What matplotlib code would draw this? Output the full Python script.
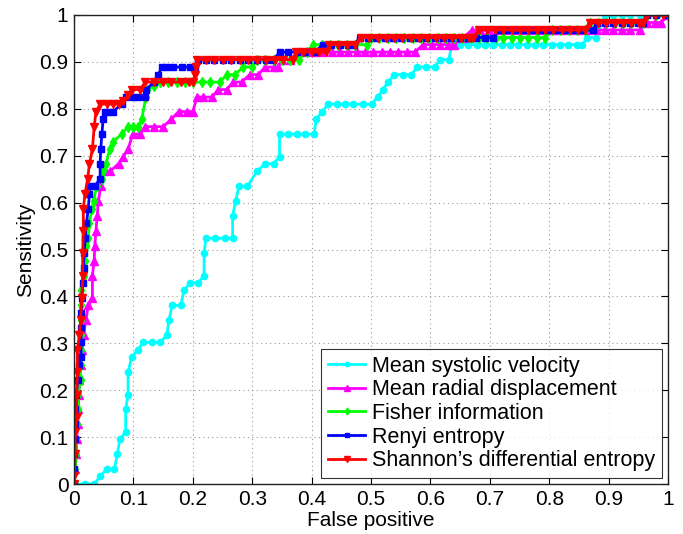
import matplotlib
matplotlib.use("Agg")
import matplotlib.pyplot as plt
import numpy as np

plt.rcParams['font.family'] = ['Liberation Sans', 'DejaVu Sans']

labels = ["Mean systolic velocity", "Mean radial displacement", "Fisher information",
          "Renyi entropy", "Shannon\u2019s differential entropy"]
colors = ["#00FFFF", "#FF00FF", "#00FF00", "#0000FF", "#FF0000"]
markers = ["o", "^", "d", "s", "v"]

systolic = [(0,0),(0.018,0),(0.034,0),(0.044,0.016),(0.055,0.032),(0.068,0.032),(0.073,0.063),
    (0.077,0.095),(0.087,0.111),(0.087,0.159),(0.091,0.190),(0.091,0.238),(0.097,0.270),(0.107,0.286),
    (0.117,0.302),(0.131,0.302),(0.145,0.302),(0.156,0.317),(0.160,0.349),(0.165,0.381),(0.180,0.381),
    (0.185,0.413),(0.196,0.429),(0.209,0.429),(0.219,0.444),(0.219,0.492),(0.222,0.524),(0.237,0.524),
    (0.254,0.524),(0.267,0.524),(0.267,0.571),(0.272,0.603),(0.278,0.635),(0.292,0.635),(0.308,0.667),
    (0.322,0.683),(0.336,0.683),(0.346,0.698),(0.346,0.746),(0.361,0.746),(0.375,0.746),(0.389,0.746),
    (0.404,0.746),(0.408,0.778),(0.418,0.794),(0.428,0.810),(0.442,0.810),(0.456,0.810),(0.470,0.810),
    (0.486,0.810),(0.501,0.810),(0.511,0.825),(0.520,0.841),(0.529,0.857),(0.539,0.873),(0.554,0.873),
    (0.568,0.873),(0.578,0.889),(0.593,0.889),(0.608,0.889),(0.616,0.905),(0.631,0.905),(0.636,0.937),
    (0.650,0.937),(0.664,0.937),(0.678,0.937),(0.692,0.937),(0.706,0.937),(0.720,0.937),(0.734,0.937),
    (0.748,0.937),(0.762,0.937),(0.776,0.937),(0.790,0.937),(0.804,0.937),(0.818,0.937),(0.832,0.937),
    (0.846,0.937),(0.856,0.937),(0.864,0.952),(0.879,0.952),(0.894,1.0),(0.908,1.0),(0.922,1.0),
    (0.936,1.0),(0.953,1.0),(0.967,1.0),(0.981,1.0),(1.0,1.0)]

radial = [(0,0),(0.002,0.032),(0.004,0.063),(0.0045,0.095),(0.006,0.127),(0.007,0.159),(0.008,0.190),
    (0.009,0.222),(0.011,0.254),(0.013,0.286),(0.016,0.317),(0.020,0.349),(0.024,0.381),(0.031,0.397),
    (0.031,0.444),(0.034,0.476),(0.035,0.508),(0.037,0.540),(0.039,0.571),(0.041,0.603),(0.045,0.635),
    (0.049,0.667),(0.061,0.667),(0.075,0.683),(0.083,0.698),(0.091,0.714),(0.099,0.746),(0.111,0.746),
    (0.120,0.762),(0.134,0.762),(0.150,0.762),(0.164,0.778),(0.176,0.794),(0.190,0.794),(0.200,0.794),
    (0.207,0.825),(0.218,0.825),(0.232,0.825),(0.243,0.841),(0.257,0.841),(0.268,0.857),(0.282,0.857),
    (0.296,0.873),(0.310,0.873),(0.322,0.889),(0.336,0.889),(0.344,0.889),(0.350,0.905),(0.364,0.905),
    (0.378,0.921),(0.392,0.921),(0.406,0.921),(0.420,0.921),(0.434,0.921),(0.448,0.921),(0.462,0.921),
    (0.476,0.921),(0.490,0.921),(0.504,0.921),(0.518,0.921),(0.532,0.921),(0.546,0.921),(0.560,0.921),
    (0.574,0.921),(0.588,0.937),(0.602,0.937),(0.616,0.937),(0.630,0.937),(0.640,0.937),(0.655,0.952),
    (0.670,0.968),(0.684,0.968),(0.698,0.968),(0.712,0.968),(0.726,0.968),(0.740,0.968),(0.754,0.968),
    (0.768,0.968),(0.782,0.968),(0.796,0.968),(0.810,0.968),(0.824,0.968),(0.838,0.968),(0.852,0.968),
    (0.866,0.968),(0.880,0.968),(0.894,0.968),(0.908,0.968),(0.922,0.968),(0.936,0.968),(0.953,0.968),
    (0.964,0.984),(0.978,0.984),(0.989,0.984),(1.0,1.0)]

fisher = [(0,0),(0.002,0.032),(0.003,0.063),(0.004,0.095),(0.005,0.127),(0.006,0.159),(0.007,0.190),
    (0.011,0.222),(0.011,0.254),(0.011,0.286),(0.011,0.317),(0.011,0.349),(0.011,0.381),(0.011,0.413),
    (0.016,0.444),(0.018,0.476),(0.021,0.508),(0.024,0.524),(0.026,0.556),(0.030,0.587),(0.033,0.603),
    (0.038,0.635),(0.047,0.651),(0.048,0.667),(0.054,0.683),(0.060,0.714),(0.066,0.730),(0.080,0.746),
    (0.091,0.762),(0.100,0.762),(0.108,0.762),(0.114,0.778),(0.121,0.825),(0.123,0.841),(0.135,0.849),
    (0.145,0.857),(0.159,0.857),(0.173,0.857),(0.187,0.857),(0.201,0.857),(0.215,0.857),(0.229,0.857),
    (0.246,0.857),(0.257,0.873),(0.271,0.873),(0.285,0.889),(0.300,0.889),(0.308,0.905),(0.322,0.905),
    (0.336,0.905),(0.350,0.905),(0.364,0.905),(0.378,0.905),(0.392,0.921),(0.403,0.937),(0.417,0.937),
    (0.431,0.937),(0.445,0.937),(0.459,0.937),(0.473,0.937),(0.493,0.937),(0.500,0.952),(0.514,0.952),
    (0.528,0.952),(0.542,0.952),(0.556,0.952),(0.570,0.952),(0.584,0.952),(0.598,0.952),(0.612,0.952),
    (0.626,0.952),(0.640,0.952),(0.654,0.952),(0.668,0.952),(0.682,0.952),(0.696,0.952),(0.710,0.952),
    (0.722,0.952),(0.737,0.952),(0.751,0.952),(0.765,0.952),(0.779,0.952),(0.793,0.952),(0.805,0.968),
    (0.819,0.968),(0.833,0.968),(0.847,0.968),(0.860,0.968),(0.868,0.984),(0.882,0.984),(0.896,0.984),
    (0.910,0.984),(0.924,0.984),(0.938,0.984),(0.958,0.984),(0.964,1.0),(0.980,1.0),(1.0,1.0)]

renyi = [(0,0),(0,0.032),(0,0.063),(0.002,0.095),(0.002,0.127),(0.002,0.159),(0.004,0.190),
    (0.006,0.222),(0.008,0.254),(0.012,0.270),(0.012,0.302),(0.012,0.333),(0.012,0.365),(0.013,0.397),
    (0.015,0.429),(0.016,0.460),(0.017,0.492),(0.019,0.524),(0.021,0.556),(0.024,0.587),(0.026,0.619),
    (0.027,0.635),(0.035,0.635),(0.044,0.651),(0.044,0.683),(0.045,0.714),(0.047,0.746),(0.049,0.778),
    (0.052,0.794),(0.058,0.794),(0.066,0.794),(0.080,0.810),(0.088,0.825),(0.100,0.825),(0.108,0.825),
    (0.120,0.825),(0.122,0.841),(0.134,0.857),(0.142,0.873),(0.148,0.889),(0.156,0.889),(0.167,0.889),
    (0.181,0.889),(0.195,0.889),(0.204,0.889),(0.209,0.905),(0.222,0.905),(0.236,0.905),(0.251,0.905),
    (0.265,0.905),(0.279,0.905),(0.293,0.905),(0.308,0.905),(0.323,0.905),(0.335,0.905),(0.347,0.921),
    (0.361,0.921),(0.375,0.921),(0.389,0.921),(0.405,0.921),(0.419,0.937),(0.433,0.937),(0.447,0.937),
    (0.461,0.937),(0.472,0.937),(0.481,0.952),(0.495,0.952),(0.509,0.952),(0.523,0.952),(0.537,0.952),
    (0.551,0.952),(0.565,0.952),(0.579,0.952),(0.593,0.952),(0.607,0.952),(0.621,0.952),(0.635,0.952),
    (0.649,0.952),(0.663,0.952),(0.677,0.952),(0.692,0.952),(0.706,0.952),(0.715,0.968),(0.729,0.968),
    (0.743,0.968),(0.757,0.968),(0.771,0.968),(0.785,0.968),(0.799,0.968),(0.813,0.968),(0.827,0.968),
    (0.841,0.968),(0.855,0.968),(0.874,0.968),(0.880,0.984),(0.894,0.984),(0.908,0.984),(0.922,0.984),
    (0.936,0.984),(0.950,0.984),(0.958,0.984),(0.964,1.0),(0.980,1.0),(1.0,1.0)]

shannon = [(0,0),(0,0.016),(0.002,0.063),(0.002,0.111),(0.0045,0.143),(0.0045,0.190),(0.0056,0.238),
    (0.0056,0.286),(0.009,0.317),(0.011,0.349),(0.013,0.397),(0.0146,0.444),(0.0146,0.492),(0.0157,0.540),
    (0.0157,0.587),(0.0185,0.619),(0.023,0.651),(0.026,0.683),(0.031,0.714),(0.034,0.762),(0.037,0.794),
    (0.044,0.810),(0.055,0.810),(0.066,0.810),(0.075,0.810),(0.083,0.817),(0.091,0.829),(0.097,0.841),
    (0.111,0.841),(0.120,0.857),(0.135,0.857),(0.150,0.857),(0.164,0.857),(0.180,0.857),(0.194,0.857),
    (0.200,0.857),(0.204,0.873),(0.206,0.889),(0.207,0.905),(0.222,0.905),(0.236,0.905),(0.251,0.905),
    (0.265,0.905),(0.279,0.905),(0.293,0.905),(0.308,0.905),(0.323,0.905),(0.338,0.905),(0.352,0.905),
    (0.368,0.905),(0.374,0.921),(0.386,0.921),(0.400,0.921),(0.413,0.921),(0.424,0.921),(0.430,0.937),
    (0.445,0.937),(0.459,0.937),(0.473,0.937),(0.483,0.952),(0.497,0.952),(0.511,0.952),(0.525,0.952),
    (0.539,0.952),(0.553,0.952),(0.567,0.952),(0.581,0.952),(0.595,0.952),(0.609,0.952),(0.623,0.952),
    (0.637,0.952),(0.651,0.952),(0.665,0.952),(0.672,0.952),(0.681,0.968),(0.695,0.968),(0.709,0.968),
    (0.723,0.968),(0.737,0.968),(0.751,0.968),(0.765,0.968),(0.779,0.968),(0.793,0.968),(0.807,0.968),
    (0.821,0.968),(0.835,0.968),(0.849,0.968),(0.860,0.968),(0.868,0.984),(0.882,0.984),(0.896,0.984),
    (0.910,0.984),(0.924,0.984),(0.938,0.984),(0.952,0.984),(0.958,0.984),(0.964,1.0),(0.978,1.0),
    (0.992,1.0),(1.0,1.0)]

series = [systolic, radial, fisher, renyi, shannon]
ticks = [0, 0.1, 0.2, 0.3, 0.4, 0.5, 0.6, 0.7, 0.8, 0.9, 1]
tick_labels = ["0", "0.1", "0.2", "0.3", "0.4", "0.5", "0.6", "0.7", "0.8", "0.9", "1"]

fig = plt.figure(figsize=(6.83, 5.34), dpi=100)
ax = fig.add_axes([74/683, 1-484/534, (668-74)/683, (484-15)/534])

msizes = [4.5, 5.5, 5, 4.5, 6]
for data, lab, c, m, ms in zip(series, labels, colors, markers, msizes):
    xs = [p[0] for p in data]
    ys = [p[1] for p in data]
    ax.plot(xs, ys, color=c, marker=m, markersize=ms, linewidth=2, label=lab,
            markeredgecolor=c, markerfacecolor=c)

ax.set_xlim(0, 1)
ax.set_ylim(0, 1)
ax.set_xticks(ticks)
ax.set_xticklabels(tick_labels)
ax.set_yticks(ticks)
ax.set_yticklabels(tick_labels)
ax.tick_params(direction='in', top=True, right=True, labelsize=15, length=5, width=0.8, pad=4)
ax.grid(True, linestyle=(0, (1, 3)), color='#999999', linewidth=0.8)
for s in ax.spines.values():
    s.set_linewidth(1.0)
    s.set_color('#222222')
ax.set_xlabel("False positive", fontsize=15, labelpad=2)
ax.set_ylabel("Sensitivity", fontsize=15, labelpad=3)

leg = ax.legend(loc='lower right', fontsize=15.5, frameon=True, fancybox=False,
                edgecolor='black', numpoints=1, handlelength=1.75, handletextpad=0.3,
                borderpad=0.3, labelspacing=0.12, borderaxespad=0.3, markerscale=0.7)
leg.get_frame().set_linewidth(0.8)

fig.savefig("out.png", dpi=100)
